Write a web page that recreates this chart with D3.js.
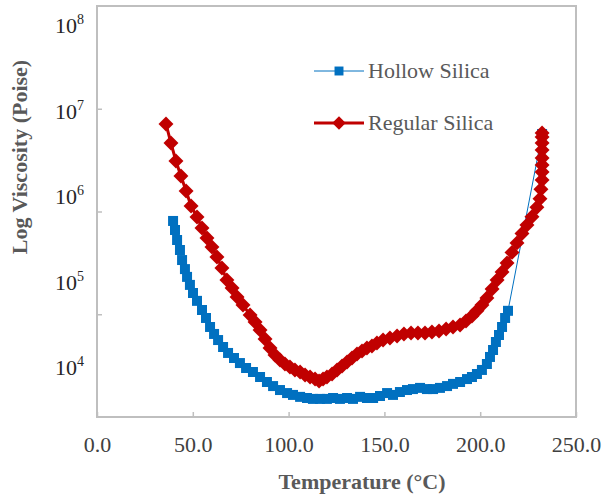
<!DOCTYPE html>
<html>
<head>
<meta charset="utf-8">
<script src="https://cdn.jsdelivr.net/npm/d3@7"></script>
<style>
  body { margin: 0; background: #fff; }
  svg { display: block; }
  text { font-family: "Liberation Serif", "Times New Roman", serif; }
</style>
</head>
<body>
<svg width="603" height="499"></svg>
<script>
// Regular Silica: temperature (°C) and viscosity (Poise)
var regularT = [36.0, 38.6, 41.2, 43.8, 46.5, 49.1, 52.2, 54.8, 57.4, 60.0, 62.6, 65.2, 67.8, 70.5, 73.1, 76.2, 79.9, 82.5, 85.1, 87.7,
    90.3, 92.9, 95.5, 98.1, 100.7, 103.3, 106.0, 108.6, 111.2, 113.8, 115.9, 118.0, 120.0, 122.7, 125.3, 127.9, 130.5, 133.1, 135.7, 138.3,
    140.9, 143.5, 146.1, 149.3, 152.9, 156.6, 160.2, 163.9, 167.5, 171.2, 174.8, 178.5, 182.2, 185.8, 189.5, 192.6, 195.7, 198.3, 200.9, 203.5,
    206.2, 208.8, 211.4, 214.0, 216.6, 219.2, 221.8, 224.4, 227.0, 229.6, 231.2, 231.7, 232.3, 232.3, 232.3, 232.3, 232.3, 232.3, 232.3, 232.3];
var regularV = [7.11e6, 4.64e6, 3.10e6, 2.22e6, 1.58e6, 1.13e6, 8.84e5, 6.91e5, 5.52e5, 4.51e5, 3.61e5, 2.82e5, 2.15e5, 1.80e5, 1.47e5, 1.23e5, 9.84e4, 8.41e4, 7.03e4, 5.74e4,
    4.69e4, 4.01e4, 3.59e4, 3.28e4, 3.07e4, 2.87e4, 2.74e4, 2.56e4, 2.45e4, 2.34e4, 2.24e4, 2.34e4, 2.45e4, 2.62e4, 2.87e4, 3.14e4, 3.43e4, 3.75e4, 4.10e4, 4.39e4,
    4.69e4, 4.91e4, 5.25e4, 5.61e4, 5.87e4, 6.14e4, 6.43e4, 6.57e4, 6.57e4, 6.57e4, 6.72e4, 6.87e4, 7.18e4, 7.52e4, 7.86e4, 8.60e4, 9.61e4, 1.08e5, 1.23e5, 1.44e5,
    1.76e5, 2.15e5, 2.58e5, 3.15e5, 4.00e5, 4.95e5, 6.10e5, 7.40e5, 8.90e5, 1.10e6, 1.33e6, 1.65e6, 2.03e6, 2.42e6, 2.84e6, 3.32e6, 3.97e6, 4.64e6, 5.31e6, 5.81e6];

// Hollow Silica
var hollowT = [39.7, 40.7, 41.8, 43.3, 44.4, 45.9, 47.0, 48.5, 50.1, 52.2, 54.8, 56.9, 59.0, 61.1, 63.2, 65.8, 68.4, 71.5, 74.6, 77.8,
    81.4, 85.1, 88.7, 91.9, 95.5, 99.2, 102.3, 106.0, 109.6, 112.7, 116.4, 120.0, 123.2, 126.8, 130.5, 133.6, 137.3, 140.9, 144.1, 147.7,
    151.4, 154.5, 158.1, 161.8, 164.9, 168.6, 172.2, 175.4, 179.0, 182.7, 185.8, 189.5, 193.1, 195.7, 198.3, 200.9, 203.5, 205.1, 206.7, 208.2,
    209.8, 211.4, 213.0, 214.5, 232.3];
var hollowV = [8.09e5, 6.61e5, 5.28e5, 4.22e5, 3.37e5, 2.75e5, 2.31e5, 1.93e5, 1.61e5, 1.35e5, 1.10e5, 9.20e4, 7.52e4, 6.43e4, 5.61e4, 4.80e4, 4.20e4, 3.75e4, 3.35e4, 3.00e4,
    2.74e4, 2.45e4, 2.19e4, 2.00e4, 1.83e4, 1.71e4, 1.64e4, 1.57e4, 1.53e4, 1.50e4, 1.50e4, 1.50e4, 1.53e4, 1.50e4, 1.53e4, 1.50e4, 1.57e4, 1.53e4, 1.53e4, 1.60e4,
    1.71e4, 1.64e4, 1.75e4, 1.83e4, 1.87e4, 1.92e4, 1.87e4, 1.87e4, 1.92e4, 2.00e4, 2.10e4, 2.19e4, 2.34e4, 2.45e4, 2.62e4, 2.87e4, 3.28e4, 3.84e4, 4.49e4, 5.37e4,
    6.28e4, 7.52e4, 9.20e4, 1.08e5, 5.68e6];

var xTicks = [0, 50, 100, 150, 200, 250];
var yTicks = [1e5, 1e6, 1e7];
var yLabelExps = [8, 7, 6, 5, 4];

var svg = d3.select('svg');
var plotL = 97, plotR = 576, plotT = 6, plotB = 417;
var grey = '#bfbfbf';

var x = d3.scaleLinear().domain([0, 250]).range([plotL, plotR]);
var y = d3.scaleLog().domain([1e4, 1e8]).range([plotB, plotT]);
// the exponent labels sit on their own spacing
var yLab = d3.scaleLinear().domain([4, 8]).range([367, 25]);

svg.append('rect')
    .attr('x', plotL).attr('y', plotT)
    .attr('width', plotR - plotL).attr('height', plotB - plotT)
    .attr('fill', 'none').attr('stroke', grey).attr('stroke-width', 2);

var xAxis = svg.append('g')
    .attr('transform', 'translate(0,' + plotB + ')')
    .call(d3.axisBottom(x).tickValues(xTicks).tickSize(-5).tickPadding(19)
        .tickFormat(function (d) { return d.toFixed(1); }));
xAxis.select('.domain').remove();
xAxis.selectAll('line').attr('stroke', grey).attr('stroke-width', 1.5);
xAxis.selectAll('text')
    .attr('fill', '#404040')
    .style('font-size', '22px')
    .style('font-family', '"Liberation Serif", serif');

var yAxis = svg.append('g')
    .attr('transform', 'translate(' + plotL + ',0)')
    .call(d3.axisLeft(y).tickValues(yTicks).tickSize(-5).tickFormat(''));
yAxis.select('.domain').remove();
yAxis.selectAll('line').attr('stroke', grey).attr('stroke-width', 1.5);

var yLabels = svg.append('g').selectAll('text')
    .data(yLabelExps)
    .join('text')
    .attr('x', 55)
    .attr('y', function (d) { return yLab(d) + 8; })
    .attr('fill', '#262626')
    .style('font-size', '22px');
yLabels.append('tspan').text('10');
yLabels.append('tspan')
    .attr('dy', -9)
    .style('font-size', '14px')
    .text(function (d) { return d; });

svg.append('text')
    .attr('x', 362).attr('y', 489)
    .attr('text-anchor', 'middle')
    .attr('fill', '#595959')
    .style('font-size', '22px').style('font-weight', 'bold')
    .text('Temperature (°C)');

svg.append('text')
    .attr('transform', 'translate(27,157) rotate(-90)')
    .attr('text-anchor', 'middle')
    .attr('fill', '#595959')
    .style('font-size', '22px').style('font-weight', 'bold')
    .text('Log Viscosity (Poise)');

var hollow = hollowT.map(function (t, i) { return [t, hollowV[i]]; });
var regular = regularT.map(function (t, i) { return [t, regularV[i]]; });

var line = d3.line()
    .x(function (d) { return x(d[0]); })
    .y(function (d) { return y(d[1]); });

var blue = '#0070c0', red = '#c00000';
var square = d3.symbol().type(d3.symbolSquare).size(100);
var diamond = d3.symbol().type(d3.symbolSquare).size(112);
var legendSquare = d3.symbol().type(d3.symbolSquare).size(80);
var legendDiamond = d3.symbol().type(d3.symbolSquare).size(90);

svg.append('path').datum(hollow)
    .attr('d', line).attr('fill', 'none')
    .attr('stroke', blue).attr('stroke-width', 1);
svg.append('g').selectAll('path')
    .data(hollow)
    .join('path')
    .attr('d', square)
    .attr('fill', blue)
    .attr('transform', function (d) { return 'translate(' + x(d[0]) + ',' + y(d[1]) + ')'; });

svg.append('path').datum(regular)
    .attr('d', line).attr('fill', 'none')
    .attr('stroke', red).attr('stroke-width', 3);
svg.append('g').selectAll('path')
    .data(regular)
    .join('path')
    .attr('d', diamond)
    .attr('fill', red)
    .attr('transform', function (d) { return 'translate(' + x(d[0]) + ',' + y(d[1]) + ') rotate(45)'; });

// legend
var legend = [
    { name: 'Hollow Silica', color: blue, width: 1, shape: legendSquare, rot: 0, y: 71 },
    { name: 'Regular Silica', color: red, width: 3, shape: legendDiamond, rot: 45, y: 123 }
];
var lg = svg.append('g').selectAll('g')
    .data(legend)
    .join('g')
    .attr('transform', function (d) { return 'translate(0,' + d.y + ')'; });
lg.append('line')
    .attr('x1', 314).attr('x2', 364)
    .attr('stroke', function (d) { return d.color; })
    .attr('stroke-width', function (d) { return d.width; });
lg.append('path')
    .attr('d', function (d) { return d.shape(); })
    .attr('fill', function (d) { return d.color; })
    .attr('transform', function (d) { return 'translate(339,0) rotate(' + d.rot + ')'; });
lg.append('text')
    .attr('x', 368).attr('y', 7)
    .attr('fill', '#595959')
    .style('font-size', '22px')
    .text(function (d) { return d.name; });
</script>
</body>
</html>
